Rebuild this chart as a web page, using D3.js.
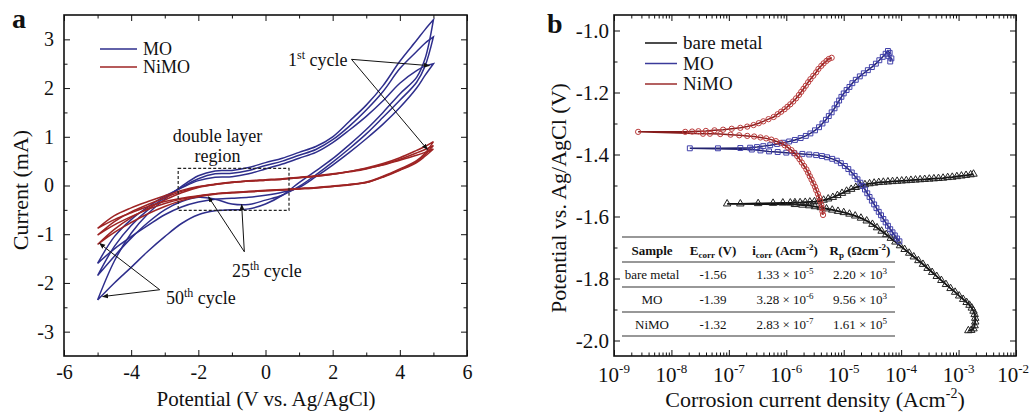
<!DOCTYPE html>
<html>
<head>
<meta charset="utf-8">
<script src="https://cdn.jsdelivr.net/npm/d3@7"></script>
<style>
  body { margin: 0; background: #fff; }
  svg text { font-family: "Liberation Serif", "Times New Roman", serif; fill: #111; }
</style>
</head>
<body>
<svg id="fig" width="1030" height="412"></svg>
<script>
// ---------- panel a: cyclic voltammograms, current (mA) at each potential (V) ----------
var cvPotential = [-5, -4.5, -4, -3.5, -3, -2.5, -2, -1.5, -1, -0.5, 0, 0.5, 1, 1.5, 2, 2.5, 3, 3.5, 4, 4.5, 4.75, 5];

// MO, forward sweep (upper branch) and return sweep (lower branch)
var moUp1  = [-1.6, -1.05, -0.7, -0.44, -0.22, -0.05, 0.1, 0.17, 0.18, 0.24, 0.34, 0.44, 0.56, 0.68, 0.88, 1.14, 1.42, 1.74, 2.1, 2.36, 2.45, 2.5];
var moDn1  = [-1.6, -1.3, -1.05, -0.82, -0.6, -0.44, -0.34, -0.28, -0.26, -0.24, -0.2, -0.14, -0.04, 0.18, 0.42, 0.68, 0.96, 1.26, 1.6, 2.0, 2.26, 2.5];
var moUp25 = [-1.85, -1.25, -0.82, -0.5, -0.25, -0.04, 0.14, 0.24, 0.25, 0.31, 0.41, 0.5, 0.62, 0.74, 0.94, 1.22, 1.55, 1.93, 2.4, 2.75, 2.92, 3.05];
var moDn25 = [-1.85, -1.45, -1.08, -0.76, -0.5, -0.33, -0.24, -0.28, -0.38, -0.39, -0.3, -0.2, -0.02, 0.22, 0.48, 0.76, 1.06, 1.4, 1.75, 2.12, 2.45, 3.05];
var moUp50 = [-2.35, -1.55, -0.98, -0.58, -0.28, -0.02, 0.2, 0.3, 0.31, 0.37, 0.47, 0.56, 0.68, 0.8, 1.0, 1.32, 1.65, 2.05, 2.55, 2.98, 3.2, 3.4];
var moDn50 = [-2.35, -2.0, -1.68, -1.35, -1.05, -0.78, -0.6, -0.52, -0.5, -0.48, -0.38, -0.2, 0.06, 0.3, 0.55, 0.84, 1.15, 1.5, 1.88, 2.22, 2.6, 3.4];

// NiMO
var niUp1  = [-0.88, -0.62, -0.46, -0.33, -0.21, -0.1, -0.02, 0.03, 0.07, 0.1, 0.12, 0.14, 0.17, 0.2, 0.24, 0.29, 0.35, 0.42, 0.52, 0.62, 0.68, 0.75];
var niDn1  = [-0.88, -0.7, -0.56, -0.43, -0.33, -0.26, -0.21, -0.17, -0.15, -0.13, -0.11, -0.09, -0.07, -0.05, -0.02, 0.01, 0.06, 0.17, 0.31, 0.47, 0.6, 0.75];
var niUp25 = [-1.02, -0.74, -0.54, -0.39, -0.25, -0.12, -0.03, 0.02, 0.06, 0.09, 0.11, 0.13, 0.16, 0.19, 0.23, 0.28, 0.34, 0.43, 0.54, 0.67, 0.74, 0.82];
var niDn25 = [-1.02, -0.81, -0.64, -0.49, -0.37, -0.28, -0.22, -0.17, -0.14, -0.12, -0.1, -0.08, -0.06, -0.04, -0.01, 0.02, 0.06, 0.18, 0.32, 0.49, 0.63, 0.82];
var niUp50 = [-1.21, -0.9, -0.66, -0.47, -0.3, -0.15, -0.04, 0.02, 0.06, 0.09, 0.11, 0.13, 0.16, 0.19, 0.23, 0.29, 0.36, 0.45, 0.57, 0.72, 0.8, 0.9];
var niDn50 = [-1.21, -0.96, -0.76, -0.58, -0.43, -0.31, -0.23, -0.18, -0.15, -0.13, -0.11, -0.09, -0.07, -0.05, -0.02, 0.02, 0.07, 0.19, 0.34, 0.51, 0.66, 0.9];

var cvXTicks = [-6, -4, -2, 0, 2, 4, 6];
var cvXMinor = [-5, -3, -1, 1, 3, 5];
var cvYTicks = [-3, -2, -1, 0, 1, 2, 3];
var cvYMinor = [-2.5, -1.5, -0.5, 0.5, 1.5, 2.5];

// ---------- panel b: polarization curves, [log10 current density (A/cm2), potential (V)] ----------
var bareMetal = [
  [-2.83,-1.968],[-2.78,-1.967],[-2.74,-1.962],[-2.72,-1.952],[-2.71,-1.94],[-2.71,-1.928],[-2.72,-1.916],[-2.74,-1.905],
  [-2.77,-1.895],[-2.81,-1.886],[-2.86,-1.877],[-2.92,-1.867],[-2.99,-1.856],[-3.06,-1.844],[-3.14,-1.832],[-3.22,-1.819],
  [-3.3,-1.806],[-3.38,-1.793],[-3.46,-1.78],[-3.54,-1.767],[-3.62,-1.754],[-3.7,-1.742],[-3.78,-1.73],[-3.86,-1.718],
  [-3.94,-1.706],[-4.02,-1.694],[-4.1,-1.682],[-4.18,-1.67],[-4.26,-1.658],[-4.34,-1.647],[-4.42,-1.636],[-4.5,-1.625],
  [-4.6,-1.614],[-4.7,-1.605],[-4.8,-1.598],[-4.9,-1.592],[-5.0,-1.587],[-5.1,-1.583],[-5.2,-1.579],[-5.3,-1.575],
  [-5.4,-1.571],[-5.5,-1.568],[-5.6,-1.565],[-5.72,-1.563],[-5.85,-1.561],
  [-7.03,-1.559],
  [-6.8,-1.559],[-6.49,-1.558],[-6.23,-1.557],[-6.06,-1.556],[-5.93,-1.556],[-5.85,-1.555],[-5.76,-1.555],[-5.67,-1.554],
  [-5.59,-1.553],[-5.51,-1.552],[-5.43,-1.55],[-5.35,-1.547],[-5.27,-1.543],[-5.19,-1.538],[-5.11,-1.532],[-5.03,-1.525],
  [-4.95,-1.518],[-4.87,-1.512],[-4.79,-1.506],[-4.71,-1.501],[-4.63,-1.497],[-4.55,-1.494],[-4.47,-1.492],[-4.39,-1.49],
  [-4.31,-1.489],[-4.23,-1.488],[-4.15,-1.487],[-4.07,-1.486],[-3.99,-1.485],[-3.91,-1.484],[-3.83,-1.483],[-3.75,-1.482],
  [-3.67,-1.481],[-3.59,-1.48],[-3.51,-1.479],[-3.43,-1.478],[-3.35,-1.477],[-3.27,-1.476],[-3.19,-1.474],[-3.11,-1.473],
  [-3.03,-1.471],[-2.95,-1.469],[-2.87,-1.467],[-2.79,-1.465],[-2.74,-1.463]
];
var moCoating = [
  [-4.03,-1.68],[-4.07,-1.671],[-4.11,-1.661],[-4.15,-1.651],[-4.19,-1.641],[-4.23,-1.63],[-4.27,-1.619],[-4.31,-1.608],
  [-4.35,-1.596],[-4.39,-1.585],[-4.43,-1.573],[-4.47,-1.561],[-4.51,-1.549],[-4.55,-1.537],[-4.59,-1.525],[-4.63,-1.513],
  [-4.67,-1.502],[-4.71,-1.491],[-4.76,-1.48],[-4.81,-1.469],[-4.86,-1.458],[-4.92,-1.447],[-4.98,-1.437],[-5.05,-1.428],
  [-5.12,-1.42],[-5.2,-1.414],[-5.29,-1.409],[-5.38,-1.405],[-5.48,-1.402],[-5.6,-1.4],[-5.72,-1.398],[-5.86,-1.396],
  [-6.0,-1.394],[-6.15,-1.392],[-6.3,-1.39],[-6.45,-1.387],[-6.6,-1.384],
  [-7.68,-1.38],
  [-7.19,-1.38],[-6.8,-1.379],[-6.63,-1.378],[-6.51,-1.376],[-6.4,-1.373],[-6.28,-1.37],[-6.16,-1.366],[-6.05,-1.362],
  [-5.95,-1.358],[-5.85,-1.353],[-5.75,-1.347],[-5.66,-1.34],[-5.58,-1.332],[-5.5,-1.322],[-5.43,-1.312],[-5.37,-1.3],
  [-5.31,-1.288],[-5.26,-1.276],[-5.21,-1.264],[-5.16,-1.251],[-5.12,-1.238],[-5.08,-1.226],[-5.04,-1.214],[-5.0,-1.203],
  [-4.95,-1.192],[-4.9,-1.182],[-4.85,-1.17],[-4.79,-1.159],[-4.72,-1.148],[-4.65,-1.138],[-4.58,-1.128],[-4.51,-1.118],
  [-4.44,-1.107],[-4.38,-1.096],[-4.32,-1.085],[-4.27,-1.075],[-4.23,-1.066],[-4.2,-1.072],[-4.22,-1.082],[-4.17,-1.09],
  [-4.19,-1.1]
];
var nimoCoating = [
  [-5.36,-1.595],[-5.37,-1.584],[-5.38,-1.573],[-5.39,-1.562],[-5.41,-1.55],[-5.43,-1.538],[-5.45,-1.527],[-5.48,-1.515],
  [-5.5,-1.504],[-5.53,-1.493],[-5.56,-1.481],[-5.59,-1.47],[-5.62,-1.459],[-5.65,-1.448],[-5.69,-1.437],[-5.73,-1.426],
  [-5.77,-1.415],[-5.81,-1.405],[-5.86,-1.395],[-5.91,-1.386],[-5.97,-1.378],[-6.03,-1.37],[-6.1,-1.363],[-6.18,-1.357],
  [-6.26,-1.352],[-6.35,-1.348],[-6.45,-1.345],[-6.56,-1.342],[-6.68,-1.34],[-6.82,-1.338],[-6.97,-1.336],[-7.15,-1.334],
  [-7.33,-1.333],[-7.45,-1.333],
  [-8.58,-1.327],
  [-7.76,-1.327],[-7.64,-1.326],[-7.53,-1.325],[-7.4,-1.324],[-7.25,-1.322],[-7.1,-1.32],[-6.95,-1.317],[-6.8,-1.314],
  [-6.68,-1.31],[-6.57,-1.305],[-6.48,-1.299],[-6.4,-1.293],[-6.31,-1.286],[-6.22,-1.279],[-6.15,-1.27],[-6.09,-1.262],
  [-6.03,-1.254],[-5.98,-1.246],[-5.93,-1.238],[-5.88,-1.229],[-5.83,-1.219],[-5.78,-1.208],[-5.74,-1.198],[-5.7,-1.188],
  [-5.66,-1.178],[-5.62,-1.167],[-5.58,-1.157],[-5.53,-1.146],[-5.48,-1.135],[-5.44,-1.124],[-5.39,-1.114],[-5.35,-1.106],
  [-5.3,-1.098],[-5.26,-1.092],[-5.21,-1.088]
];

var tafelExponents = [-9, -8, -7, -6, -5, -4, -3, -2];
var tafelYTicks = [-2.0, -1.8, -1.6, -1.4, -1.2, -1.0];
var tafelYMinor = [-1.9, -1.7, -1.5, -1.3, -1.1];

// table in panel b
var tableSamples = ['bare metal', 'MO', 'NiMO'];
var tableEcorr = ['-1.56', '-1.39', '-1.32'];
var tableIcorr = [['1.33', '-5'], ['3.28', '-6'], ['2.83', '-7']];
var tableRp = [['2.20', '3'], ['9.56', '3'], ['1.61', '5']];

// ---------- drawing ----------
var svg = d3.select('#fig');
var blue = '#2e2e8c', red = '#9e2424';

svg.append('defs').append('marker')
    .attr('id', 'arrow')
    .attr('viewBox', '0 0 10 10')
    .attr('refX', 9).attr('refY', 5)
    .attr('markerWidth', 6).attr('markerHeight', 6)
    .attr('orient', 'auto')
  .append('path')
    .attr('d', 'M0,1 L10,5 L0,9 z')
    .style('fill', '#111');

// inward ticks on all four sides, then a frame
function frameAxes(g, x, y, o){
    var xr = x.range(), yr = y.range();
    var sides = [
        [d3.axisBottom, x, 'translate(0,' + yr[0] + ')', o.xMajor, o.xMinor, o.xFmt],
        [d3.axisTop, x, 'translate(0,' + yr[1] + ')', o.xMajor, o.xMinor, null],
        [d3.axisLeft, y, 'translate(' + xr[0] + ',0)', o.yMajor, o.yMinor, o.yFmt],
        [d3.axisRight, y, 'translate(' + xr[1] + ',0)', o.yMajor, o.yMinor, null]
    ];
    sides.forEach(function(s){
        var major = s[0](s[1]).tickValues(s[3]).tickSize(-6).tickSizeOuter(0)
            .tickPadding(s[0] === d3.axisBottom ? o.xPad : o.yPad)
            .tickFormat(s[5] ? s[5] : '');
        var minor = s[0](s[1]).tickValues(s[4]).tickSize(-3.5).tickSizeOuter(0).tickFormat('');
        var ga = g.append('g').attr('transform', s[2]).call(major);
        var gm = g.append('g').attr('transform', s[2]).call(minor);
        ga.select('.domain').remove();
        gm.select('.domain').remove();
        ga.selectAll('line').style('stroke', '#111');
        gm.selectAll('line').style('stroke', '#111');
        ga.selectAll('text')
            .style('font-family', '"Liberation Serif", "Times New Roman", serif')
            .style('font-size', o.fontSize + 'px')
            .style('fill', '#111');
    });
    g.append('rect')
        .attr('x', xr[0]).attr('y', yr[1])
        .attr('width', xr[1] - xr[0]).attr('height', yr[0] - yr[1])
        .style('fill', 'none').style('stroke', '#111').style('stroke-width', 1.6);
}

// ===== panel a =====
var ga = svg.append('g');
var xA = d3.scaleLinear().domain([-6, 6]).range([64, 467]);
var yA = d3.scaleLinear().domain([-3.5, 3.5]).range([356, 15]);

var cvLine = d3.line()
    .x(function(d){ return xA(d[0]); })
    .y(function(d){ return yA(d[1]); })
    .curve(d3.curveCatmullRom.alpha(0.5));

function loop(up, dn){
    var fwd = cvPotential.map(function(v, i){ return [v, up[i]]; });
    var back = cvPotential.map(function(v, i){ return [v, dn[i]]; }).reverse();
    return fwd.concat(back);
}

var moLoops = [loop(moUp1, moDn1), loop(moUp25, moDn25), loop(moUp50, moDn50)];
var niLoops = [loop(niUp1, niDn1), loop(niUp25, niDn25), loop(niUp50, niDn50)];

ga.selectAll('path.mo').data(moLoops).enter().append('path')
    .attr('class', 'mo')
    .attr('d', cvLine)
    .style('fill', 'none').style('stroke', blue).style('stroke-width', 1.5);
ga.selectAll('path.ni').data(niLoops).enter().append('path')
    .attr('class', 'ni')
    .attr('d', cvLine)
    .style('fill', 'none').style('stroke', red).style('stroke-width', 1.5);

frameAxes(ga, xA, yA, {
    xMajor: cvXTicks, xMinor: cvXMinor, yMajor: cvYTicks, yMinor: cvYMinor,
    xFmt: function(d){ return String(d); }, yFmt: function(d){ return String(d); },
    xPad: 9, yPad: 10, fontSize: 20
});

// double layer box
ga.append('rect')
    .attr('x', xA(-2.6)).attr('y', yA(0.35))
    .attr('width', xA(0.7) - xA(-2.6)).attr('height', yA(-0.51) - yA(0.35))
    .style('fill', 'none').style('stroke', '#222').style('stroke-width', 1.2)
    .style('stroke-dasharray', '3,2');
ga.append('text').attr('x', xA(-1.43)).attr('y', 142).attr('text-anchor', 'middle')
    .style('font-size', '18px').text('double layer');
ga.append('text').attr('x', xA(-1.43)).attr('y', 162).attr('text-anchor', 'middle')
    .style('font-size', '18px').text('region');

// cycle labels with arrows
var arrows = [
    [[2.56, 2.59], [4.88, 2.46]], [[2.56, 2.59], [4.82, 0.74]],
    [[-0.63, -1.36], [-1.70, -0.23]], [[-0.63, -1.36], [-0.71, -0.39]],
    [[-3.15, -2.14], [-4.94, -1.19]], [[-3.15, -2.14], [-4.85, -2.28]]
];
ga.selectAll('line.arrow').data(arrows).enter().append('line')
    .attr('class', 'arrow')
    .attr('x1', function(d){ return xA(d[0][0]); })
    .attr('y1', function(d){ return yA(d[0][1]); })
    .attr('x2', function(d){ return xA(d[1][0]); })
    .attr('y2', function(d){ return yA(d[1][1]); })
    .style('stroke', '#111').style('stroke-width', 1)
    .attr('marker-end', 'url(#arrow)');

function cycleLabel(x, y, num, sup){
    var t = ga.append('text').attr('x', x).attr('y', y).style('font-size', '18px');
    t.append('tspan').text(num);
    t.append('tspan').attr('dy', -7).style('font-size', '12px').text(sup);
    t.append('tspan').attr('dy', 7).text(' cycle');
}
cycleLabel(288, 66, '1', 'st');
cycleLabel(232, 277, '25', 'th');
cycleLabel(166, 304, '50', 'th');

// legend a
var legA = [['MO', blue], ['NiMO', red]];
legA.forEach(function(d, i){
    var yy = 49 + i * 18;
    ga.append('line').attr('x1', 100).attr('x2', 137).attr('y1', yy).attr('y2', yy)
        .style('stroke', d[1]).style('stroke-width', 1.5);
    ga.append('text').attr('x', 143).attr('y', yy + 6).style('font-size', '18px').text(d[0]);
});

ga.append('text').attr('x', 266).attr('y', 406).attr('text-anchor', 'middle')
    .style('font-size', '21px').text('Potential (V vs. Ag/AgCl)');
ga.append('text').attr('transform', 'translate(28,190) rotate(-90)').attr('text-anchor', 'middle')
    .style('font-size', '22px').text('Current (mA)');
ga.append('text').attr('x', 12).attr('y', 28).style('font-size', '28px').style('font-weight', 'bold').text('a');

// ===== panel b =====
var gb = svg.append('g');
var xB = d3.scaleLog().domain([1e-9, 1e-2]).range([614, 1016]);
var yB = d3.scaleLinear().domain([-2.05, -0.95]).range([356, 15]);

var xBMajor = tafelExponents.map(function(e){ return Math.pow(10, e); });
var xBMinor = [];
tafelExponents.slice(0, -1).forEach(function(e){
    for (var m = 2; m <= 9; m++) xBMinor.push(m * Math.pow(10, e));
});

var tafelLine = d3.line()
    .x(function(d){ return xB(Math.pow(10, d[0])); })
    .y(function(d){ return yB(d[1]); });

var tafelSeries = [
    { name: 'bare metal', data: bareMetal, line: '#111', lw: 1.8, mark: '#222', symbol: d3.symbolTriangle, size: 24 },
    { name: 'MO', data: moCoating, line: '#22226e', lw: 1.5, mark: '#4040aa', symbol: d3.symbolSquare, size: 24 },
    { name: 'NiMO', data: nimoCoating, line: '#861c1c', lw: 1.5, mark: '#bb3c3c', symbol: d3.symbolCircle, size: 22 }
];

tafelSeries.forEach(function(s){
    gb.append('path').datum(s.data).attr('d', tafelLine)
        .style('fill', 'none').style('stroke', s.line).style('stroke-width', s.lw);
    gb.selectAll(null).data(s.data).enter().append('path')
        .attr('transform', function(d){ return 'translate(' + xB(Math.pow(10, d[0])) + ',' + yB(d[1]) + ')'; })
        .attr('d', d3.symbol().type(s.symbol).size(s.size))
        .style('fill', 'none').style('stroke', s.mark).style('stroke-width', 1);
});

frameAxes(gb, xB, yB, {
    xMajor: xBMajor, xMinor: xBMinor, yMajor: tafelYTicks, yMinor: tafelYMinor,
    xFmt: null, yFmt: function(d){ return d.toFixed(1); },
    xPad: 9, yPad: 5, fontSize: 21
});

// log labels 10^n
gb.selectAll('text.xlab').data(tafelExponents).enter().append('text')
    .attr('class', 'xlab')
    .attr('x', function(e){ return xB(Math.pow(10, e)); })
    .attr('y', 382)
    .attr('text-anchor', 'middle')
    .style('font-size', '21px')
    .each(function(e){
        var t = d3.select(this);
        t.append('tspan').text('10');
        t.append('tspan').attr('dy', -9).style('font-size', '13px').text(String(e));
        // keep the last label inside the page
        var b = this.getBBox();
        if (b.x + b.width > 1029) t.attr('x', +t.attr('x') - (b.x + b.width - 1029));
    });

// legend b
tafelSeries.forEach(function(s, i){
    var yy = 43 + i * 20.5;
    var c = i === 0 ? '#111' : (i === 1 ? '#3a3a9a' : '#9b2d2d');
    gb.append('line').attr('x1', 645).attr('x2', 677).attr('y1', yy).attr('y2', yy)
        .style('stroke', c).style('stroke-width', 1.5);
    gb.append('text').attr('x', 683).attr('y', yy + 6).style('font-size', '19px').text(s.name);
});

// table
var colX = [652, 713, 785, 860];
var rowLines = [237, 262, 287, 312, 336];
rowLines.forEach(function(yy){
    gb.append('line').attr('x1', 622).attr('x2', 895).attr('y1', yy).attr('y2', yy)
        .style('stroke', '#333').style('stroke-width', 1.1);
});
function cell(x, y, bold){
    return gb.append('text').attr('x', x).attr('y', y).attr('text-anchor', 'middle')
        .style('font-size', '13px').style('font-weight', bold ? 'bold' : 'normal');
}
cell(colX[0], 255, true).text('Sample');
var h1 = cell(colX[1], 255, true);
h1.append('tspan').text('E');
h1.append('tspan').attr('dy', 3).style('font-size', '9px').text('corr');
h1.append('tspan').attr('dy', -3).text(' (V)');
var h2 = cell(colX[2], 255, true);
h2.append('tspan').text('i');
h2.append('tspan').attr('dy', 3).style('font-size', '9px').text('corr');
h2.append('tspan').attr('dy', -3).text(' (Acm');
h2.append('tspan').attr('dy', -5).style('font-size', '9px').text('-2');
h2.append('tspan').attr('dy', 5).text(')');
var h3 = cell(colX[3], 255, true);
h3.append('tspan').text('R');
h3.append('tspan').attr('dy', 3).style('font-size', '9px').text('p');
h3.append('tspan').attr('dy', -3).text(' (\u03A9cm');
h3.append('tspan').attr('dy', -5).style('font-size', '9px').text('-2');
h3.append('tspan').attr('dy', 5).text(')');

tableSamples.forEach(function(name, i){
    var yy = 279 + i * 25;
    cell(colX[0], yy, false).text(name);
    cell(colX[1], yy, false).text(tableEcorr[i]);
    var c2 = cell(colX[2], yy, false);
    c2.append('tspan').text(tableIcorr[i][0] + ' \u00D7 10');
    c2.append('tspan').attr('dy', -5).style('font-size', '9px').text(tableIcorr[i][1]);
    var c3 = cell(colX[3], yy, false);
    c3.append('tspan').text(tableRp[i][0] + ' \u00D7 10');
    c3.append('tspan').attr('dy', -5).style('font-size', '9px').text(tableRp[i][1]);
});

var xt = gb.append('text').attr('x', 815).attr('y', 407).attr('text-anchor', 'middle').style('font-size', '22px');
xt.append('tspan').text('Corrosion current density (Acm');
xt.append('tspan').attr('dy', -9).style('font-size', '14px').text('-2');
xt.append('tspan').attr('dy', 9).text(')');
gb.append('text').attr('transform', 'translate(566,198) rotate(-90)').attr('text-anchor', 'middle')
    .style('font-size', '22px').text('Potential vs. Ag/AgCl (V)');
gb.append('text').attr('x', 547).attr('y', 33).style('font-size', '28px').style('font-weight', 'bold').text('b');
</script>
</body>
</html>
